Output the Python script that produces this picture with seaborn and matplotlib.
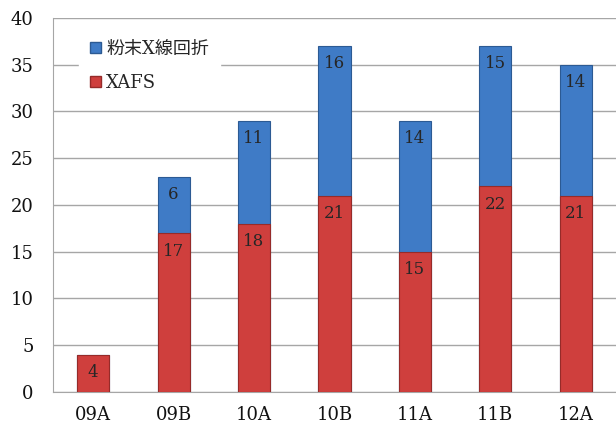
import numpy as np
import pandas as pd
import matplotlib
matplotlib.use("Agg")
import matplotlib.pyplot as plt
from matplotlib.patches import Patch
import seaborn as sns

# data
periods = ["09A", "09B", "10A", "10B", "11A", "11B", "12A"]
xafs = [4, 17, 18, 21, 15, 22, 21]
powder = [0, 6, 11, 16, 14, 15, 14]

BLUE = "#3f7bc6"
RED = "#cf3f3d"


def main():
    sns.set_style("white")
    plt.rcParams["font.family"] = ["DejaVu Serif", "Noto Sans CJK JP"]

    df = pd.DataFrame({"period": periods, "xafs": xafs, "powder": powder})
    df["total"] = df["xafs"] + df["powder"]

    fig = plt.figure(figsize=(6.16, 4.26), dpi=100)
    ax = fig.add_axes([0.086, 0.080, 0.914, 0.878])

    # stacked bars: totals in blue, XAFS drawn over them in red
    sns.barplot(data=df, x="period", y="total", color=BLUE, width=0.4,
                saturation=1, linewidth=0.8, edgecolor="#2c5a93", ax=ax, zorder=3)
    sns.barplot(data=df, x="period", y="xafs", color=RED, width=0.4,
                saturation=1, linewidth=0.8, edgecolor="#962b29", ax=ax, zorder=3)

    for i, row in df.iterrows():
        if row["powder"] > 0:
            ax.annotate(str(row["powder"]), (i, row["total"]), xytext=(0, -13),
                        textcoords="offset points", ha="center", va="center",
                        fontsize=12, zorder=4)
        ax.annotate(str(row["xafs"]), (i, row["xafs"]), xytext=(0, -13),
                    textcoords="offset points", ha="center", va="center",
                    fontsize=12, zorder=4)

    ax.set_ylim(0, 40)
    ax.set_xlim(-0.5, len(periods) - 0.5)
    ax.set_yticks(np.arange(0, 41, 5))
    ax.yaxis.grid(True, color="#a6a6a6", linewidth=1, zorder=0)
    ax.set_axisbelow(True)
    ax.set_xlabel("")
    ax.set_ylabel("")
    ax.tick_params(axis="both", length=0, labelsize=13, colors="#111111")
    ax.tick_params(axis="x", pad=10)
    ax.tick_params(axis="y", pad=14)
    for side in ["top", "right"]:
        ax.spines[side].set_visible(False)
    for side in ["left", "bottom"]:
        ax.spines[side].set_color("#a6a6a6")

    handles = [Patch(facecolor=BLUE, edgecolor="#2c5a93"),
               Patch(facecolor=RED, edgecolor="#962b29")]
    ax.legend(handles, ["粉末X線回折", "XAFS"], loc="upper left",
              bbox_to_anchor=(0.03, 0.995), frameon=True, facecolor="white",
              edgecolor="white", framealpha=1,
              prop={"family": ["DejaVu Serif", "Noto Sans CJK JP"], "size": 13},
              handlelength=0.6, handleheight=0.6, handletextpad=0.3,
              labelspacing=0.9, borderpad=0.6)

    fig.savefig("out.png", dpi=100)
    plt.close(fig)


if __name__ == "__main__":
    main()
